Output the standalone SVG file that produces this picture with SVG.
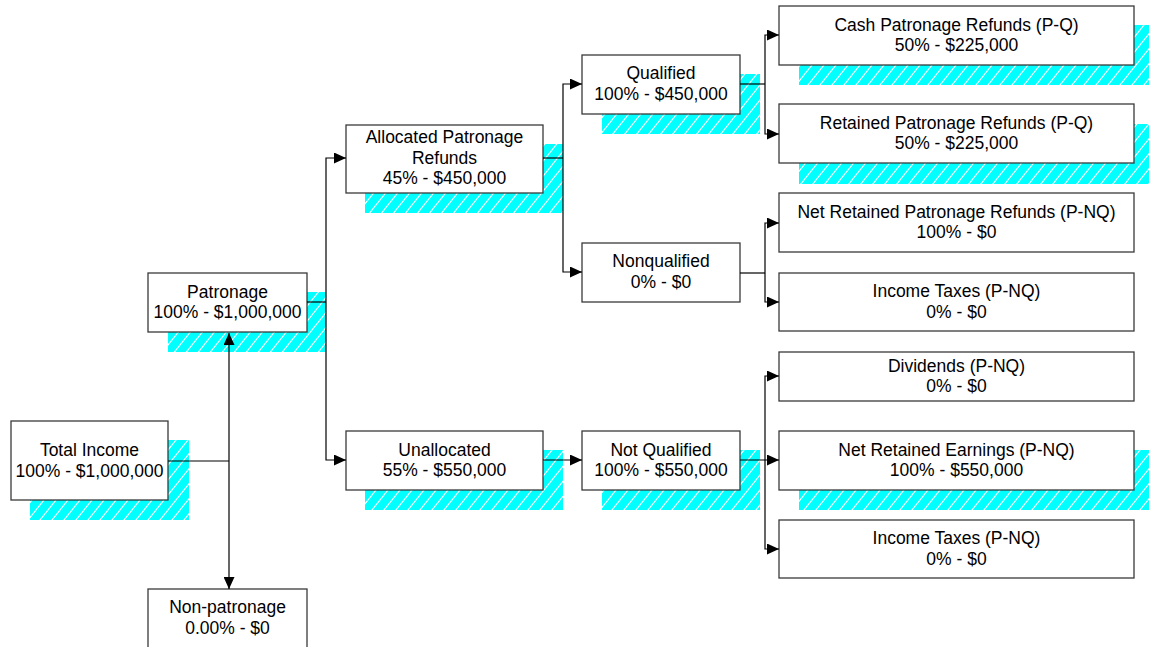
<svg xmlns="http://www.w3.org/2000/svg" width="1149" height="647" viewBox="0 0 1149 647">
<defs>
<pattern id="hatch" patternUnits="userSpaceOnUse" width="12" height="15">
<rect width="12" height="15" fill="#00FFFF"/>
<path d="M0,15 L12,0 M-3,3.75 L3,-3.75 M9,18.75 L15,11.25" stroke="#FFFFFF" stroke-width="1.1" fill="none"/>
</pattern>
<marker id="arr" markerUnits="userSpaceOnUse" markerWidth="12" markerHeight="11" refX="12" refY="5.5" orient="auto">
<path d="M0,0 L12,5.5 L0,11 Z" fill="#000"/>
</marker>
<style>
.sh{fill:url(#hatch);}
.bx{fill:#fff;stroke:#3a3a3a;stroke-width:1.3;}
.t{font-family:"Liberation Sans",Arial,sans-serif;font-size:17.5px;fill:#000;text-anchor:middle;}
.c{fill:none;stroke:#000;stroke-width:1.2;}
.ca{fill:none;stroke:#000;stroke-width:1.2;marker-end:url(#arr);}
</style>
</defs>
<rect width="1149" height="647" fill="#fff"/>

<g id="total-income">
<rect class="sh" x="30" y="440" width="159" height="80"/>
<rect class="bx" x="11" y="421" width="157" height="79"/>
<text class="t" x="89.5" y="455.5">Total Income</text>
<text class="t" x="89.5" y="476.5">100% - $1,000,000</text>
</g>

<g id="patronage">
<rect class="sh" x="168" y="292" width="158" height="60"/>
<rect class="bx" x="148" y="273" width="159" height="59"/>
<text class="t" x="227.5" y="297.5">Patronage</text>
<text class="t" x="227.5" y="318">100% - $1,000,000</text>
</g>

<g id="non-patronage">
<rect class="bx" x="148" y="589" width="159" height="70"/>
<text class="t" x="227.5" y="613">Non-patronage</text>
<text class="t" x="227.5" y="634">0.00% - $0</text>
</g>

<g id="allocated">
<rect class="sh" x="365" y="144" width="198" height="69"/>
<rect class="bx" x="346" y="125" width="197" height="68"/>
<text class="t" x="444.5" y="143">Allocated Patronage</text>
<text class="t" x="444.5" y="163.5">Refunds</text>
<text class="t" x="444.5" y="184">45% - $450,000</text>
</g>

<g id="unallocated">
<rect class="sh" x="365" y="450" width="198" height="60"/>
<rect class="bx" x="346" y="431" width="197" height="59"/>
<text class="t" x="444.5" y="455.5">Unallocated</text>
<text class="t" x="444.5" y="476">55% - $550,000</text>
</g>

<g id="qualified">
<rect class="sh" x="602" y="74" width="158" height="60"/>
<rect class="bx" x="582" y="55" width="158" height="59"/>
<text class="t" x="661" y="79">Qualified</text>
<text class="t" x="661" y="100">100% - $450,000</text>
</g>

<g id="nonqualified">
<rect class="bx" x="582" y="243" width="158" height="59"/>
<text class="t" x="661" y="267">Nonqualified</text>
<text class="t" x="661" y="288">0% - $0</text>
</g>

<g id="not-qualified">
<rect class="sh" x="602" y="450" width="158" height="60"/>
<rect class="bx" x="582" y="431" width="158" height="59"/>
<text class="t" x="661" y="455.5">Not Qualified</text>
<text class="t" x="661" y="476">100% - $550,000</text>
</g>

<g id="cash-refunds">
<rect class="sh" x="799" y="25" width="356" height="60"/>
<rect class="bx" x="779" y="6" width="355" height="59"/>
<text class="t" x="956.5" y="30.5">Cash Patronage Refunds (P-Q)</text>
<text class="t" x="956.5" y="51">50% - $225,000</text>
</g>

<g id="retained-refunds">
<rect class="sh" x="799" y="124" width="356" height="60"/>
<rect class="bx" x="779" y="104" width="355" height="59"/>
<text class="t" x="956.5" y="128.5">Retained Patronage Refunds (P-Q)</text>
<text class="t" x="956.5" y="149">50% - $225,000</text>
</g>

<g id="net-retained-refunds">
<rect class="bx" x="779" y="193" width="355" height="59"/>
<text class="t" x="956.5" y="217.5">Net Retained Patronage Refunds (P-NQ)</text>
<text class="t" x="956.5" y="238">100% - $0</text>
</g>

<g id="income-taxes-1">
<rect class="bx" x="779" y="273" width="355" height="58"/>
<text class="t" x="956.5" y="297">Income Taxes (P-NQ)</text>
<text class="t" x="956.5" y="318">0% - $0</text>
</g>

<g id="dividends">
<rect class="bx" x="779" y="352" width="355" height="49"/>
<text class="t" x="956.5" y="371.5">Dividends (P-NQ)</text>
<text class="t" x="956.5" y="392">0% - $0</text>
</g>

<g id="net-retained-earnings">
<rect class="sh" x="799" y="450" width="356" height="60"/>
<rect class="bx" x="779" y="431" width="355" height="59"/>
<text class="t" x="956.5" y="455.5">Net Retained Earnings (P-NQ)</text>
<text class="t" x="956.5" y="476">100% - $550,000</text>
</g>

<g id="income-taxes-2">
<rect class="bx" x="779" y="520" width="355" height="58"/>
<text class="t" x="956.5" y="544">Income Taxes (P-NQ)</text>
<text class="t" x="956.5" y="565">0% - $0</text>
</g>

<g id="connectors">
<path class="c" d="M168,461 H229"/>
<path class="ca" d="M229,461 V333"/>
<path class="ca" d="M229,461 V589"/>
<path class="c" d="M307,302 H326"/>
<path class="ca" d="M326,302 V158 H346"/>
<path class="ca" d="M326,302 V460 H346"/>
<path class="c" d="M543,158 H563"/>
<path class="ca" d="M563,158 V84 H582"/>
<path class="ca" d="M563,158 V272 H582"/>
<path class="ca" d="M543,460 H582"/>
<path class="c" d="M740,84 H765"/>
<path class="ca" d="M765,84 V35 H779"/>
<path class="ca" d="M765,84 V134 H779"/>
<path class="c" d="M740,273 H765"/>
<path class="ca" d="M765,273 V223 H779"/>
<path class="ca" d="M765,273 V302 H779"/>
<path class="ca" d="M740,460 H779"/>
<path class="ca" d="M765,460 V376 H779"/>
<path class="ca" d="M765,460 V549 H779"/>
</g>
</svg>
